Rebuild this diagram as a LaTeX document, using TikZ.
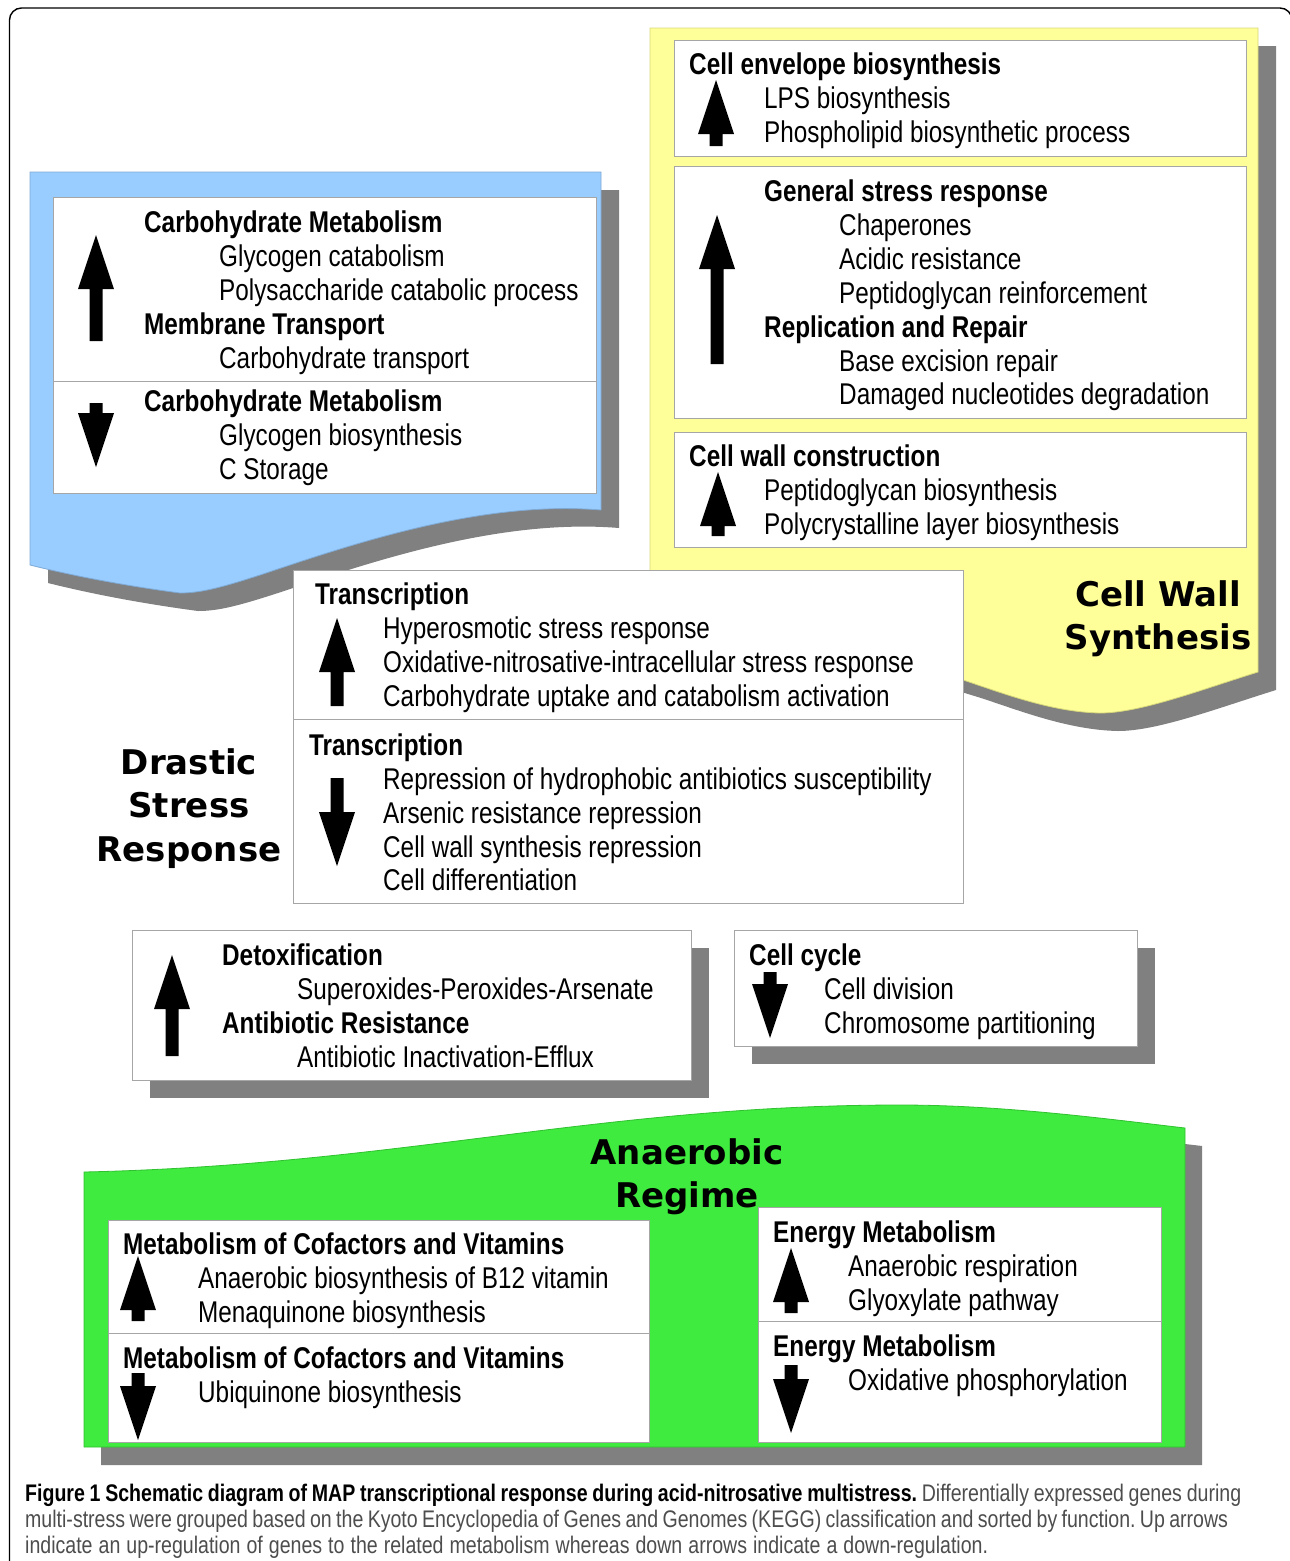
\documentclass[tikz,border=0pt]{standalone}
\usepackage{fontspec}
\setmainfont{Liberation Sans}[FakeStretch=0.81]
\newfontfamily\bigfont{DejaVu Sans}
\newfontfamily\capfont{Liberation Sans}[FakeStretch=0.815]
\definecolor{panelblue}{HTML}{99CCFF}
\definecolor{panelyellow}{HTML}{FFFF99}
\definecolor{panelgreen}{HTML}{3EEB3E}
\definecolor{blueedge}{HTML}{7FAAD4}
\definecolor{yellowedge}{HTML}{D6D67A}
\definecolor{greenedge}{HTML}{30C030}
\definecolor{shadowgray}{HTML}{808080}
\definecolor{boxline}{HTML}{A6A6A6}
\definecolor{captext}{HTML}{4D4D4D}
\newcommand\MyUpArr[3]{\fill[black] (#1,#2) -- (#1+18,#2+54) -- (#1+6.5,#2+54) -- (#1+6.5,#3) -- (#1-6.5,#3) -- (#1-6.5,#2+54) -- (#1-18,#2+54) -- cycle;}
\newcommand\MyDownArr[3]{\fill[black] (#1-6.5,#2) -- (#1+6.5,#2) -- (#1+6.5,#3-54) -- (#1+18,#3-54) -- (#1,#3) -- (#1-18,#3-54) -- (#1-6.5,#3-54) -- cycle;}
\newcommand\CapLine[2]{\hbox to #1{\frenchspacing\spaceskip=0.27em plus 0.3em minus 0.12em\relax #2}}
\begin{document}
\begin{tikzpicture}[x=1pt,y=-1pt,
  tx/.style={anchor=base west, inner sep=0pt, font=\fontsize{30}{34}\selectfont},
  hd/.style={anchor=base west, inner sep=0pt, font=\fontsize{30}{34}\selectfont\bfseries},
  big/.style={anchor=base, inner sep=0pt, font=\bigfont\bfseries\fontsize{34}{43}\selectfont},
  wbox/.style={fill=white, draw=boxline, line width=1pt},
  divider/.style={draw=boxline, line width=1pt},
  shadowfill/.style={fill=shadowgray},
  capline/.style={anchor=base west, inner sep=0pt, font=\capfont\fontsize{24}{26}\selectfont, text=captext}]
\useasboundingbox (0,0) rectangle (1290,1561);
\clip (0,0) rectangle (1290,1561);

% outer frame
\draw[line width=1.4pt, rounded corners=12pt] (9.5,8) rectangle (1292,1620);

% ---------- blue panel ----------
\fill[shadowfill, shift={(18,18)}] (30,172) -- (601,172) -- (601,510) .. controls (480,500) and (350,545) .. (260,575) .. controls (220,588) and (200,593) .. (180,593) .. controls (120,585) and (70,575) .. (30,565) -- cycle;
\filldraw[fill=panelblue, draw=blueedge, line width=0.8pt] (30,172) -- (601,172) -- (601,510) .. controls (480,500) and (350,545) .. (260,575) .. controls (220,588) and (200,593) .. (180,593) .. controls (120,585) and (70,575) .. (30,565) -- cycle;
\filldraw[wbox] (53,197) rectangle (596,493);
\draw[divider] (53,381) -- (596,381);

% ---------- yellow panel ----------
\fill[shadowfill, shift={(18,18)}] (650,28) -- (1258,28) -- (1258,672) .. controls (1200,690) and (1140,713) .. (1100,713) .. controls (1050,712) and (1000,692) .. (963,680) .. controls (850,645) and (720,610) .. (650,610) -- cycle;
\filldraw[fill=panelyellow, draw=yellowedge, line width=0.8pt] (650,28) -- (1258,28) -- (1258,672) .. controls (1200,690) and (1140,713) .. (1100,713) .. controls (1050,712) and (1000,692) .. (963,680) .. controls (850,645) and (720,610) .. (650,610) -- cycle;
\filldraw[wbox] (674,40) rectangle (1246,156);
\filldraw[wbox] (674,166) rectangle (1246,418);
\filldraw[wbox] (674,432) rectangle (1246,547);

% ---------- transcription box ----------
\filldraw[wbox] (293,570) rectangle (963,903);
\draw[divider] (293,719) -- (963,719);

% ---------- detox / cell cycle ----------
\fill[shadowfill] (150,948) rectangle (709,1098);
\filldraw[wbox] (132,930) rectangle (691,1080);
\fill[shadowfill] (752,948) rectangle (1155,1064);
\filldraw[wbox] (734,930) rectangle (1137,1046);

% ---------- green panel ----------
\fill[shadowfill, shift={(17,18)}] (84,1447) -- (84,1172) .. controls (400,1165) and (600,1105) .. (900,1105) .. controls (1000,1105) and (1100,1118) .. (1185,1128) -- (1185,1447) -- cycle;
\filldraw[fill=panelgreen, draw=greenedge, line width=0.8pt] (84,1447) -- (84,1172) .. controls (400,1165) and (600,1105) .. (900,1105) .. controls (1000,1105) and (1100,1118) .. (1185,1128) -- (1185,1447) -- cycle;
\filldraw[wbox] (108,1220) rectangle (649,1442);
\draw[divider] (108,1333) -- (649,1333);
\filldraw[wbox] (758,1207) rectangle (1161,1442);
\draw[divider] (758,1321) -- (1161,1321);

% ---------- arrows ----------
\MyUpArr{96}{235}{341}
\MyDownArr{96}{403}{467}
\MyUpArr{716}{80}{146}
\MyUpArr{717}{215}{364}
\MyUpArr{718}{472}{536}
\MyUpArr{337}{618}{706}
\MyDownArr{337}{778}{866}
\MyUpArr{172}{955}{1056}
\MyDownArr{770}{972}{1038}
\MyUpArr{138}{1256}{1321}
\MyDownArr{138}{1373}{1440}
\MyUpArr{791}{1248}{1313}
\MyDownArr{791}{1365}{1433}

% ---------- blue texts ----------
\node[hd] (b1) at (144,232) {Carbohydrate Metabolism};
\node[tx] (b2) at (219,266) {Glycogen catabolism};
\node[tx] (b3) at (219,300) {Polysaccharide catabolic process};
\node[hd] (b4) at (144,334) {Membrane Transport};
\node[tx] (b5) at (219,368) {Carbohydrate transport};
\node[hd] (b6) at (144,411) {Carbohydrate Metabolism};
\node[tx] (b7) at (219,445) {Glycogen biosynthesis};
\node[tx] (b8) at (219,479) {C Storage};

% ---------- yellow texts ----------
\node[hd] (y1) at (689,74) {Cell envelope biosynthesis};
\node[tx] (y2) at (764,108) {LPS biosynthesis};
\node[tx] (y3) at (764,142) {Phospholipid biosynthetic process};
\node[hd] (y4) at (764,201) {General stress response};
\node[tx] (y5) at (839,235) {Chaperones};
\node[tx] (y6) at (839,269) {Acidic resistance};
\node[tx] (y7) at (839,303) {Peptidoglycan reinforcement};
\node[hd] (y8) at (764,337) {Replication and Repair};
\node[tx] (y9) at (839,371) {Base excision repair};
\node[tx] (y10) at (839,404) {Damaged nucleotides degradation};
\node[hd] (y11) at (689,466) {Cell wall construction};
\node[tx] (y12) at (764,500) {Peptidoglycan biosynthesis};
\node[tx] (y13) at (764,534) {Polycrystalline layer biosynthesis};
\node[big] (cw1) at (1158,606) {Cell Wall};
\node[big] (cw2) at (1158,649) {Synthesis};

% ---------- transcription texts ----------
\node[hd] (t1) at (315,604) {Transcription};
\node[tx] (t2) at (383,638) {Hyperosmotic stress response};
\node[tx] (t3) at (383,672) {Oxidative-nitrosative-intracellular stress response};
\node[tx] (t4) at (383,706) {Carbohydrate uptake and catabolism activation};
\node[hd] (t5) at (309,755) {Transcription};
\node[tx] (t6) at (383,789) {Repression of hydrophobic antibiotics susceptibility};
\node[tx] (t7) at (383,823) {Arsenic resistance repression};
\node[tx] (t8) at (383,857) {Cell wall synthesis repression};
\node[tx] (t9) at (383,890) {Cell differentiation};

\node[big] (ds1) at (189,774) {Drastic};
\node[big] (ds2) at (189,817) {Stress};
\node[big] (ds3) at (189,861) {Response};

% ---------- detox / cell cycle texts ----------
\node[hd] (d1) at (222,965) {Detoxification};
\node[tx] (d2) at (297,999) {Superoxides-Peroxides-Arsenate};
\node[hd] (d3) at (222,1033) {Antibiotic Resistance};
\node[tx] (d4) at (297,1067) {Antibiotic Inactivation-Efflux};
\node[hd] (c1) at (749,965) {Cell cycle};
\node[tx] (c2) at (824,999) {Cell division};
\node[tx] (c3) at (824,1033) {Chromosome partitioning};

% ---------- green texts ----------
\node[big] (ar1) at (687,1164) {Anaerobic};
\node[big] (ar2) at (687,1207) {Regime};
\node[hd] (g1) at (123,1254) {Metabolism of Cofactors and Vitamins};
\node[tx] (g2) at (198,1288) {Anaerobic biosynthesis of B12 vitamin};
\node[tx] (g3) at (198,1322) {Menaquinone biosynthesis};
\node[hd] (g4) at (123,1368) {Metabolism of Cofactors and Vitamins};
\node[tx] (g5) at (198,1402) {Ubiquinone biosynthesis};
\node[hd] (e1) at (773,1242) {Energy Metabolism};
\node[tx] (e2) at (848,1276) {Anaerobic respiration};
\node[tx] (e3) at (848,1310) {Glyoxylate pathway};
\node[hd] (e4) at (773,1356) {Energy Metabolism};
\node[tx] (e5) at (848,1390) {Oxidative phosphorylation};

% ---------- caption ----------
\node[capline] (cap1) at (25,1501) {\CapLine{1216pt}{{\color{black}\bfseries Figure 1 Schematic diagram of MAP transcriptional response during acid-nitrosative multistress.} Differentially expressed genes during}};
\node[capline] (cap2) at (25,1527) {\CapLine{1203pt}{multi-stress were grouped based on the Kyoto Encyclopedia of Genes and Genomes (KEGG) classification and sorted by function. Up arrows}};
\node[capline] (cap3) at (25,1553) {\CapLine{963pt}{indicate an up-regulation of genes to the related metabolism whereas down arrows indicate a down-regulation.}};
\end{tikzpicture}
\end{document}
